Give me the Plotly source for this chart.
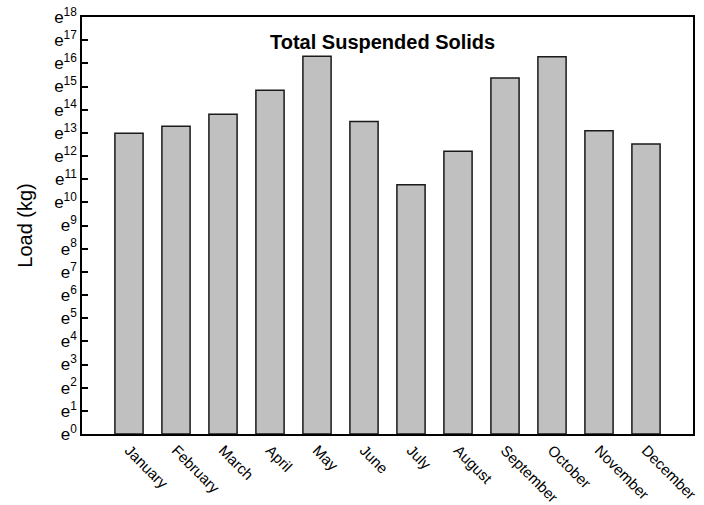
import plotly.graph_objects as go

# Monthly total suspended solids load, as natural-log exponents (load = e^value kg)
months = ["January", "February", "March", "April", "May", "June",
          "July", "August", "September", "October", "November", "December"]
ln_load = [12.98, 13.28, 13.80, 14.84, 16.31, 13.49,
           10.76, 12.21, 15.37, 16.28, 13.09, 12.52]

exponents = list(range(0, 19))
exp_labels = [f"e<sup>{n}</sup>" for n in exponents]

font_family = "Liberation Sans, Arial, sans-serif"

fig = go.Figure(
    go.Bar(
        x=months,
        y=ln_load,
        width=0.6,
        marker=dict(color="#c0c0c0", line=dict(color="#1a1a1a", width=1.5)),
    )
)

fig.update_layout(
    width=704,
    height=505,
    margin=dict(l=82, r=11, t=17, b=71),
    paper_bgcolor="white",
    plot_bgcolor="white",
    showlegend=False,
    font=dict(family=font_family, color="black"),
    annotations=[
        dict(
            text="<b>Total Suspended Solids</b>",
            x=0.491, y=0.941, xref="paper", yref="paper",
            xanchor="center", yanchor="middle",
            showarrow=False,
            font=dict(size=20, family=font_family, color="black"),
        )
    ],
)

fig.update_xaxes(
    range=[-1, 12],
    automargin=False,
    showline=True, linecolor="black", linewidth=1.5, mirror=True,
    showgrid=False, ticks="",
    tickangle=45,
    tickfont=dict(size=15),
)

fig.update_yaxes(
    range=[0, 18],
    automargin=False,
    tickvals=exponents,
    ticktext=exp_labels,
    showline=True, linecolor="black", linewidth=1.5, mirror=True,
    showgrid=False, zeroline=False,
    ticks="inside", ticklen=6, tickcolor="black", tickwidth=1.5,
    tickfont=dict(size=17),
    title=dict(text="Load (kg)", font=dict(size=20), standoff=16),
)

fig.write_html("out.html")
